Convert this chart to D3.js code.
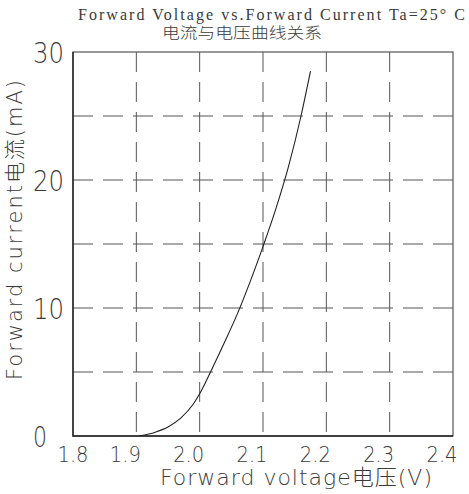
<!DOCTYPE html>
<html>
<head>
<meta charset="utf-8">
<script src="https://cdn.jsdelivr.net/npm/d3@7"></script>
<style>
  body { margin: 0; background: #fff; }
</style>
</head>
<body>
<script>
  // forward voltage (V) vs forward current (mA)
  const voltage = [1.905, 1.93, 1.95, 1.97, 1.99, 2.0, 2.02, 2.04, 2.06, 2.08, 2.1, 2.12, 2.14, 2.16, 2.175];
  const current = [0, 0.3, 0.7, 1.4, 2.5, 3.3, 5.3, 7.4, 9.6, 12.1, 14.8, 17.7, 21.0, 25.0, 28.5];

  const xTicks = [1.8, 1.9, 2.0, 2.1, 2.2, 2.3, 2.4];
  const yTicks = [0, 10, 20, 30];
  const yGrid = [5, 10, 15, 20, 25];

  const title = "Forward Voltage vs.Forward Current Ta=25° C";
  const subtitle = "电流与电压曲线关系";
  const xLabel = "Forward voltage电压(V)";
  const yLabel = "Forward current电流(mA)";

  const data = voltage.map((v, i) => ({v, i: current[i]}));

  const width = 469;
  const height = 494;
  const marginTop = 52;
  const marginRight = 16;
  const marginBottom = 58;
  const marginLeft = 73;

  const x = d3.scaleLinear()
      .domain([1.8, 2.4])
      .range([marginLeft, width - marginRight]);

  const y = d3.scaleLinear()
      .domain([0, 30])
      .range([height - marginBottom, marginTop]);

  const svg = d3.select("body")
    .append("svg")
      .attr("width", width)
      .attr("height", height)
      .attr("viewBox", [0, 0, width, height]);

  const lightFont = "'DejaVu Sans', 'Noto Sans CJK SC', sans-serif";
  const ink = "#3a3a3a";

  // vertical grid
  svg.append("g")
      .attr("stroke", "#555")
      .attr("stroke-width", 1)
      .attr("stroke-dasharray", "20,10")
    .selectAll("line")
    .data(xTicks.slice(1, -1))
    .join("line")
      .attr("x1", d => x(d))
      .attr("x2", d => x(d))
      .attr("y1", y(30))
      .attr("y2", y(0));

  // horizontal grid
  svg.append("g")
      .attr("stroke", "#555")
      .attr("stroke-width", 1)
      .attr("stroke-dasharray", "20,10")
    .selectAll("line")
    .data(yGrid)
    .join("line")
      .attr("x1", x(1.8))
      .attr("x2", x(2.4))
      .attr("y1", d => y(d))
      .attr("y2", d => y(d));

  // frame
  svg.append("rect")
      .attr("x", x(1.8))
      .attr("y", y(30))
      .attr("width", x(2.4) - x(1.8))
      .attr("height", y(0) - y(30))
      .attr("fill", "none")
      .attr("stroke", "#555")
      .attr("stroke-width", 1.2);
  svg.append("path")
      .attr("d", `M${x(1.8)},${y(30)}V${y(0)}H${x(2.4)}`)
      .attr("fill", "none")
      .attr("stroke", "#222")
      .attr("stroke-width", 1.4);

  // curve
  svg.append("path")
      .datum(data)
      .attr("fill", "none")
      .attr("stroke", "#222")
      .attr("stroke-width", 1.1)
      .attr("d", d3.line()
          .x(d => x(d.v))
          .y(d => y(d.i))
          .curve(d3.curveMonotoneX));

  // y tick labels
  svg.append("g")
      .attr("font-family", lightFont)
      .attr("font-weight", 200)
      .attr("font-size", 28)
      .attr("fill", ink)
    .selectAll("text")
    .data(yTicks)
    .join("text")
      .attr("x", d => d === 0 ? 33 : 64)
      .attr("y", d => y(d) + 11)
      .attr("text-anchor", d => d === 0 ? "start" : "end")
      .attr("textLength", d => d === 0 ? 14 : 31)
      .attr("lengthAdjust", "spacingAndGlyphs")
      .text(d => d);

  // x tick labels (all but the first sit a little left of their tick)
  svg.append("g")
      .attr("font-family", lightFont)
      .attr("font-weight", 200)
      .attr("font-size", 21)
      .attr("fill", ink)
    .selectAll("text")
    .data(xTicks)
    .join("text")
      .attr("x", (d, i) => i === 0 ? x(d) : x(d) - 11)
      .attr("y", 462)
      .attr("text-anchor", "middle")
      .attr("textLength", 31)
      .attr("lengthAdjust", "spacingAndGlyphs")
      .text(d => d.toFixed(1));

  // X-axis Label
  svg.append("text")
      .attr("font-family", lightFont)
      .attr("font-weight", 200)
      .attr("font-size", 22)
      .attr("fill", ink)
      .attr("x", 160)
      .attr("y", 485)
      .attr("textLength", 272)
      .attr("lengthAdjust", "spacing")
      .text(xLabel);

  // Y-axis Label
  svg.append("text")
      .attr("font-family", lightFont)
      .attr("font-weight", 200)
      .attr("font-size", 21)
      .attr("fill", ink)
      .attr("transform", "rotate(-90)")
      .attr("x", -380)
      .attr("y", 22)
      .attr("textLength", 300)
      .attr("lengthAdjust", "spacing")
      .text(yLabel);

  // titles
  svg.append("text")
      .attr("font-family", "'Liberation Serif', serif")
      .attr("font-size", 16)
      .attr("fill", ink)
      .attr("x", 78)
      .attr("y", 20)
      .attr("textLength", 387)
      .attr("lengthAdjust", "spacing")
      .text(title);

  svg.append("text")
      .attr("font-family", "'Noto Sans CJK SC', sans-serif")
      .attr("font-weight", 300)
      .attr("font-size", 15)
      .attr("fill", ink)
      .attr("x", 162)
      .attr("y", 38)
      .attr("textLength", 160)
      .attr("lengthAdjust", "spacingAndGlyphs")
      .text(subtitle);
</script>
</body>
</html>
